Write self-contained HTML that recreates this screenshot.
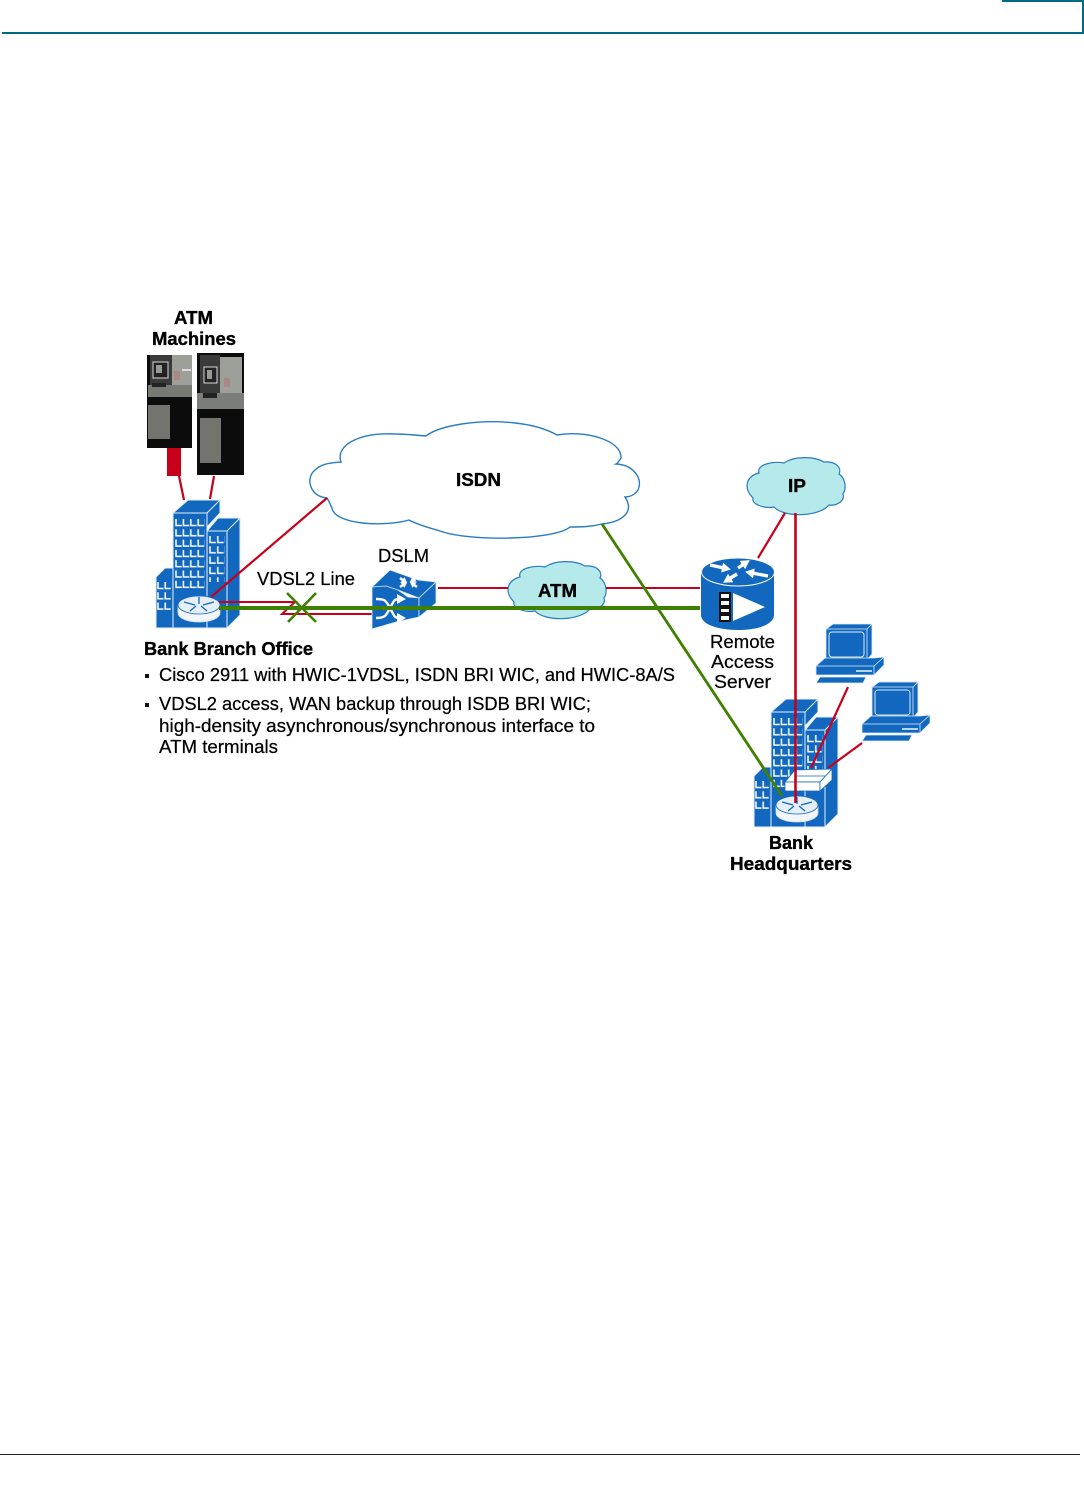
<!DOCTYPE html>
<html><head><meta charset="utf-8"><style>
html,body{margin:0;padding:0;background:#fff}
svg{display:block}
text{font-family:"Liberation Sans",sans-serif;font-size:18px;fill:#000;stroke:#000;stroke-width:.22}
.b{font-weight:bold;stroke-width:.35}
</style></head><body>
<svg width="1084" height="1492" viewBox="0 0 1084 1492" xmlns="http://www.w3.org/2000/svg">
<defs>
<marker id="ah" markerUnits="userSpaceOnUse" markerWidth="10" markerHeight="10" refX="2" refY="5" orient="auto"><path d="M0,0L9,5L0,10Z" fill="#fff"/></marker>
<marker id="as" markerUnits="userSpaceOnUse" markerWidth="7" markerHeight="7" refX="2" refY="3.5" orient="auto"><path d="M0,0L6,3.5L0,7Z" fill="#fff"/></marker>
<pattern id="w1" patternUnits="userSpaceOnUse" x="175" y="518" width="7.4" height="10.3"><path d="M1,1V7.5H6.8" fill="none" stroke="#fff" stroke-width="1.5"/></pattern>
<pattern id="w2" patternUnits="userSpaceOnUse" x="209" y="535" width="7.8" height="10.3"><path d="M1,1V7.5H6.8" fill="none" stroke="#fff" stroke-width="1.5"/></pattern>
<pattern id="w3" patternUnits="userSpaceOnUse" x="157" y="581" width="7.2" height="10.3"><path d="M1,1V7.5H6.5" fill="none" stroke="#fff" stroke-width="1.5"/></pattern>
<g id="bld" stroke="#e4eff9" stroke-width="1" stroke-linejoin="round">
<path d="M156,628V577L165,568H173V628Z" fill="#1268bf"/>
<path d="M207,628V531L218,518H240V615L227,628Z" fill="#1268bf"/>
<path d="M173,628V513L188,500H220V513L207,527V628Z" fill="#1268bf"/>
<path d="M173,513H207L220,500M207,513V531M227,531V628M207,531H227L240,518" fill="none"/>
<rect x="175" y="518" width="30" height="72" fill="url(#w1)" stroke="none"/>
<rect x="209" y="535" width="16" height="47" fill="url(#w2)" stroke="none"/>
<rect x="157" y="581" width="14.4" height="31" fill="url(#w3)" stroke="none"/>
</g>
<g id="rtr">
<path d="M178,606V613C178,618 187,622 199,622C211,622 220,618 220,613V606Z" fill="#f2f6fb" stroke="#cfe0f0" stroke-width="0.8"/>
<ellipse cx="199" cy="605" rx="21" ry="9" fill="#e6eff8" stroke="#1268bf" stroke-width=".8"/>
<path d="M184,602L195,605M214,602L203,605M190,611L196,606M207,611L201,606M199,597V604" stroke="#1268bf" stroke-width="1.3" fill="none"/>
</g>
<g id="pc" stroke="#dcebf7" stroke-width="0.8" stroke-linejoin="round" fill="#1268bf">
<path d="M826,629L833,624H872V654L867,660H826Z"/>
<path d="M826,629H867L872,624M867,629V660" fill="none"/>
<rect x="829" y="632" width="35" height="25" rx="3" fill="#1268bf" stroke="#dcebf7" stroke-width="1"/>
<path d="M816,666L825,658H874L884,657V665L874,675H816Z"/>
<path d="M816,666H874L884,657M874,666V675" fill="none"/>
<path d="M856,671H872" stroke="#fff" stroke-width="1.4"/>
<path d="M820,677H866L863,683H816Z"/>
</g>
<path id="c2" d="M508,590C508,582 515,578 520,577C517,568 535,565 545,567C555,560 575,560 585,566C597,565 603,572 600,578C606,582 608,592 604,598C606,605 598,610 590,609C580,621 545,622 535,611C525,613 512,608 514,602C510,598 508,594 508,590Z" fill="#b5e9ea" stroke="#2a7cc0" stroke-width="1.2"/>
</defs>

<path d="M1002,1H1083V33H2" fill="none" stroke="#006a84" stroke-width="2"/>
<path d="M0,1454.5H1080" stroke="#222" stroke-width="1"/>

<!-- ATM machines -->
<rect x="167" y="448" width="14" height="28" fill="#c8001a"/>
<rect x="147" y="355" width="45" height="93" fill="#0c0c0c"/>
<rect x="172" y="355" width="20" height="30" fill="#9d9f99"/>
<rect x="150" y="355" width="22" height="32" fill="#3a3a3a"/>
<rect x="153" y="362" width="15" height="16" fill="#222" stroke="#d8d8d8" stroke-width="1"/>
<rect x="156" y="365" width="6" height="8" fill="#999"/>
<rect x="174" y="371" width="6" height="9" fill="#a88"/>
<rect x="182" y="369" width="9" height="2" fill="#ddd"/>
<rect x="148" y="385" width="44" height="12" fill="#777973"/>
<rect x="152" y="383" width="14" height="4" fill="#222"/>
<rect x="148" y="405" width="22" height="34" fill="#72746d"/>
<rect x="197" y="353" width="47" height="122" fill="#0c0c0c"/>
<rect x="220" y="357" width="22" height="37" fill="#9d9f99"/>
<rect x="200" y="355" width="20" height="38" fill="#3a3a3a"/>
<rect x="204" y="367" width="13" height="16" fill="#222" stroke="#d8d8d8" stroke-width="1"/>
<rect x="207" y="370" width="5" height="9" fill="#999"/>
<rect x="224" y="378" width="6" height="9" fill="#a88"/>
<rect x="197" y="393" width="47" height="16" fill="#7b7d78"/>
<rect x="203" y="393" width="14" height="5" fill="#222"/>
<rect x="200" y="418" width="21" height="45" fill="#72746d"/>

<!-- clouds -->
<path d="M327,498C310,497 305,478 315,470C322,463 332,463 341,462C335,445 360,432 395,434C405,434 415,435 426,436C440,425 480,419 515,423C535,425 548,430 557,435C585,430 622,440 621,458C619,461 618,463 616,464C635,465 643,480 638,490C634,496 628,497 625,497C635,512 622,522 602,524C590,527 580,527 570,527C555,540 470,542 440,531C430,528 418,525 409,520C385,527 335,525 332,508C330,504 329,501 327,498Z" fill="#fff" stroke="#2a7cc0" stroke-width="1.4"/>
<use href="#c2"/>
<use href="#c2" transform="translate(239,-104)"/>

<!-- branch building + router -->
<use href="#bld"/>
<use href="#rtr"/>

<!-- red links -->
<g fill="none" stroke="#c8001a">
<path d="M179,476L184,500M214,476L210,499" stroke-width="2.2"/>
<path d="M211,597L327,498" stroke-width="2.2"/>
<path d="M219,602H295L282,614H372" stroke-width="2"/>
<path d="M438,588H508M606,588H700" stroke-width="2"/>
<path d="M758,558L785,513" stroke-width="2.2"/>
</g>

<!-- DSLM -->
<g stroke="#dcebf7" stroke-width="0.8" stroke-linejoin="round" fill="#1268bf">
<path d="M372,587L390,570L404,575L418,580L436,582L419,598L398,590Z"/>
<path d="M372,587L386,586L398,590L408,597L419,598V617L396,622L372,629Z"/>
<path d="M419,598L436,582V603L419,617Z"/>
</g>
<g stroke="#fff" stroke-width="2.4" fill="none">
<path d="M376,599C386,599 386,601 390,608C394,615 394,618 399,618" marker-end="url(#ah)"/>
<path d="M376,618C386,618 386,615 390,608C394,601 394,599 399,599" marker-end="url(#ah)"/>
<path d="M400,578L404,581" marker-end="url(#as)"/>
<path d="M417,587L413,584" marker-end="url(#as)"/>
<path d="M417,577L413,580" marker-end="url(#as)"/>
<path d="M400,587L404,584" marker-end="url(#as)"/>
</g>

<!-- Remote access server -->
<path d="M701,572V615C701,624 717,630 738,630C759,630 774,624 774,615V572Z" fill="#1268bf"/>
<ellipse cx="738" cy="572" rx="36.5" ry="14" fill="#1268bf" stroke="#fff" stroke-width="1"/>
<g stroke="#fff" stroke-width="3.4" fill="none">
<path d="M710,565L724,568" marker-end="url(#ah)"/>
<path d="M738,568L744,564" marker-end="url(#ah)"/>
<path d="M768,576L752,573" marker-end="url(#ah)"/>
<path d="M737,574L729,579" marker-end="url(#ah)"/>
</g>
<path d="M733,593L765,607L733,621Z" fill="#fff"/>
<g fill="#fff" stroke="#111" stroke-width="2"><rect x="720" y="593" width="10" height="6"/><rect x="720" y="600" width="10" height="6"/><rect x="720" y="608" width="10" height="5"/><rect x="720" y="615" width="10" height="6"/></g>

<!-- HQ -->
<use href="#pc"/>
<use href="#pc" transform="translate(46,58)"/>
<use href="#bld" transform="translate(598,199)"/>
<path d="M848,687L811,768M862,743L828,768" stroke="#c8001a" stroke-width="2.2" fill="none"/>
<g stroke="#1268bf" stroke-width="0.8" stroke-linejoin="round" fill="#fff">
<path d="M785,782L795,770L832,769L820,782Z"/>
<path d="M785,782H820V791H785Z"/>
<path d="M820,782L832,769V780L820,791Z"/>
<path d="M795,776H825" fill="none"/>
</g>
<use href="#rtr" transform="translate(598,200)"/>
<path d="M795.5,513V803" stroke="#c8001a" stroke-width="2.6"/>

<!-- green -->
<g stroke="#3f8000" fill="none">
<path d="M219,608H700" stroke-width="4"/>
<path d="M602,524L782,796" stroke-width="2.8"/>
<path d="M287,593L316,622M316,593L288,622" stroke-width="2.6"/>
</g>

<!-- labels -->
<text class="b" x="174" y="324" textLength="39" lengthAdjust="spacingAndGlyphs">ATM</text>
<text class="b" x="152" y="345" textLength="84" lengthAdjust="spacingAndGlyphs">Machines</text>
<text class="b" x="456" y="486" textLength="45" lengthAdjust="spacingAndGlyphs">ISDN</text>
<text class="b" x="538" y="597" textLength="39" lengthAdjust="spacingAndGlyphs">ATM</text>
<text class="b" x="788" y="492" textLength="18" lengthAdjust="spacingAndGlyphs">IP</text>
<text x="378" y="562" textLength="51" lengthAdjust="spacingAndGlyphs">DSLM</text>
<text x="257" y="585" textLength="98" lengthAdjust="spacingAndGlyphs">VDSL2 Line</text>
<text x="710" y="648" textLength="65" lengthAdjust="spacingAndGlyphs">Remote</text>
<text x="711" y="668" textLength="63" lengthAdjust="spacingAndGlyphs">Access</text>
<text x="714" y="688" textLength="57" lengthAdjust="spacingAndGlyphs">Server</text>
<text class="b" x="769" y="849" textLength="44" lengthAdjust="spacingAndGlyphs">Bank</text>
<text class="b" x="730" y="870" textLength="122" lengthAdjust="spacingAndGlyphs">Headquarters</text>
<text class="b" x="144" y="655" textLength="169" lengthAdjust="spacingAndGlyphs">Bank Branch Office</text>
<rect x="145" y="674" width="4" height="4" fill="#111"/>
<text x="159" y="681" textLength="516" lengthAdjust="spacingAndGlyphs">Cisco 2911 with HWIC-1VDSL, ISDN BRI WIC, and HWIC-8A/S</text>
<rect x="145" y="703" width="4" height="4" fill="#111"/>
<text x="159" y="710" textLength="432" lengthAdjust="spacingAndGlyphs">VDSL2 access, WAN backup through ISDB BRI WIC;</text>
<text x="159" y="732" textLength="436" lengthAdjust="spacingAndGlyphs">high-density asynchronous/synchronous interface to</text>
<text x="159" y="753" textLength="119" lengthAdjust="spacingAndGlyphs">ATM terminals</text>
</svg>
</body></html>
